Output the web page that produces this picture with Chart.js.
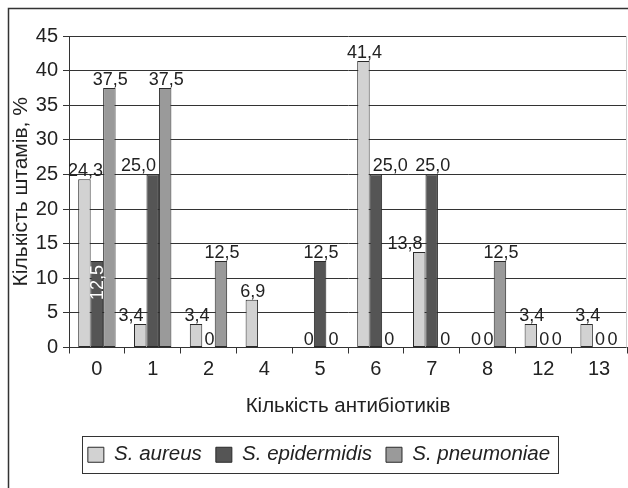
<!DOCTYPE html>
<html>
<head>
<meta charset="utf-8">
<script src="https://cdn.jsdelivr.net/npm/chart.js@4.4.1/dist/chart.umd.min.js"></script>
<style>
    html, body { margin: 0; padding: 0; background: #fff; }
</style>
</head>
<body>
<canvas id="chart" width="628" height="488"></canvas>
<script>
// data
const categories = ['0', '1', '2', '4', '5', '6', '7', '8', '12', '13'];
const aureus = [24.3, 3.4, 3.4, 6.9, 0, 41.4, 13.8, 0, 3.4, 3.4];
const epidermidis = [12.5, 25.0, 0, null, 12.5, 25.0, 25.0, 0, 0, 0];
const pneumoniae = [37.5, 37.5, 12.5, null, 0, 0, 0, 12.5, 0, 0];
const seriesNames = ['S. aureus', 'S. epidermidis', 'S. pneumoniae'];
const yMin = 0, yMax = 45, yStep = 5;

const FONT = "'Liberation Sans', Arial, Helvetica, sans-serif";
const INK = '#222';

function fmt(v) {
    if (v === 0) return '0';
    return v.toFixed(1).replace('.', ',');
}

// white page + outer frame
const framePlugin = {
    id: 'frame',
    beforeDraw(chart) {
        const ctx = chart.ctx;
        ctx.save();
        ctx.fillStyle = '#fff';
        ctx.fillRect(0, 0, chart.width, chart.height);
        ctx.strokeStyle = '#333';
        ctx.lineWidth = 1.5;
        ctx.strokeRect(8.5, 8.5, chart.width + 20, chart.height + 20);
        ctx.restore();
    },
    afterDraw(chart) {
        const a = chart.chartArea;
        const ctx = chart.ctx;
        ctx.save();
        ctx.strokeStyle = '#cfcfcf';
        ctx.lineWidth = 1;
        ctx.beginPath();
        ctx.moveTo(Math.round(a.right) - 0.5, a.top);
        ctx.lineTo(Math.round(a.right) - 0.5, a.bottom);
        ctx.stroke();
        ctx.restore();
    }
};

// value labels over the bars
const labelPlugin = {
    id: 'valueLabels',
    afterDatasetsDraw(chart) {
        const ctx = chart.ctx;
        const sets = chart.data.datasets;
        ctx.save();
        ctx.font = '18px ' + FONT;
        sets.forEach((ds, i) => {
            const meta = chart.getDatasetMeta(i);
            meta.data.forEach((bar, j) => {
                const v = ds.data[j];
                if (v === null || v === undefined) return;
                const txt = fmt(v);
                const lv = i > 0 ? sets[i - 1].data[j] : null;
                const rv = i < sets.length - 1 ? sets[i + 1].data[j] : null;
                // squeezed between two taller bars -> write it inside, turned
                if (v > 0 && lv > v && rv > v) {
                    ctx.save();
                    ctx.translate(bar.x + 1, bar.y + 4);
                    ctx.rotate(-Math.PI / 2);
                    ctx.fillStyle = '#fff';
                    ctx.textAlign = 'right';
                    ctx.textBaseline = 'middle';
                    ctx.fillText(txt, 0, 0);
                    ctx.restore();
                    return;
                }
                const w = ctx.measureText(txt).width;
                const base = bar.y - 3;
                let cx = bar.x + 1;
                // push the label off a taller neighbour bar
                if (rv !== null && rv !== undefined) {
                    const rb = chart.getDatasetMeta(i + 1).data[j];
                    const edge = rb.x - rb.width / 2;
                    if (rb.y < base && cx + w / 2 > edge) cx = edge - 3 - w / 2;
                }
                if (lv !== null && lv !== undefined) {
                    const lb = chart.getDatasetMeta(i - 1).data[j];
                    const edge = lb.x + lb.width / 2;
                    if (lb.y < base && cx - w / 2 < edge) cx = edge + 3 + w / 2;
                }
                ctx.fillStyle = INK;
                ctx.textAlign = 'center';
                ctx.textBaseline = 'alphabetic';
                ctx.fillText(txt, cx, base);
            });
        });
        ctx.restore();
    }
};

// box around the legend
const legendBoxPlugin = {
    id: 'legendBox',
    afterDraw(chart) {
        const hb = chart.legend && chart.legend.legendHitBoxes;
        if (!hb || !hb.length) return;
        const first = hb[0], last = hb[hb.length - 1];
        const x0 = Math.round(first.left - 6) + 0.5;
        const x1 = Math.round(last.left + last.width + 8) + 0.5;
        const y0 = Math.round(first.top - 9) + 0.5;
        const y1 = Math.round(first.top + first.height + 8) + 0.5;
        const ctx = chart.ctx;
        ctx.save();
        ctx.strokeStyle = '#333';
        ctx.lineWidth = 1;
        ctx.strokeRect(x0, y0, x1 - x0, y1 - y0);
        ctx.restore();
    }
};

const ctx = document.getElementById('chart').getContext('2d');
new Chart(ctx, {
    type: 'bar',
    data: {
        labels: categories,
        datasets: [
            { label: seriesNames[0], data: aureus, backgroundColor: '#d2d2d2' },
            { label: seriesNames[1], data: epidermidis, backgroundColor: '#555555' },
            { label: seriesNames[2], data: pneumoniae, backgroundColor: '#9a9a9a' }
        ].map(d => Object.assign(d, {
            borderColor: '#2a2a2a',
            borderWidth: 1,
            borderSkipped: false,
            barPercentage: 1,
            categoryPercentage: 0.67
        }))
    },
    options: {
        responsive: false,
        animation: false,
        devicePixelRatio: 1,
        layout: {
            padding: { left: 11, right: 1, top: 36, bottom: 13 }
        },
        plugins: {
            legend: {
                position: 'bottom',
                labels: {
                    boxWidth: 16,
                    boxHeight: 15,
                    padding: 14,
                    color: INK,
                    font: { family: FONT, size: 20.5, style: 'italic' }
                }
            },
            tooltip: { enabled: false },
            title: { display: false }
        },
        scales: {
            x: {
                grid: {
                    drawOnChartArea: false,
                    drawTicks: true,
                    tickLength: 6,
                    color: '#333'
                },
                border: { display: true, color: '#333', width: 1 },
                ticks: {
                    padding: 4,
                    color: INK,
                    maxRotation: 0,
                    font: { family: FONT, size: 20 }
                },
                title: {
                    display: true,
                    text: 'Кількість антибіотиків',
                    color: INK,
                    font: { family: FONT, size: 20.5 },
                    padding: { top: 0, bottom: 12 }
                },
                afterFit(scale) { scale.height = 83; }
            },
            y: {
                min: yMin,
                max: yMax,
                grid: {
                    color: '#333',
                    lineWidth: 1,
                    tickLength: 6
                },
                border: { display: true, color: '#333', width: 1 },
                ticks: {
                    stepSize: yStep,
                    padding: 5,
                    color: INK,
                    font: { family: FONT, size: 20 }
                },
                title: {
                    display: true,
                    text: 'Кількість штамів, %',
                    color: INK,
                    font: { family: FONT, size: 21 },
                    padding: { top: -2, bottom: 0 }
                },
                afterFit(scale) { scale.width = 58; }
            }
        }
    },
    plugins: [framePlugin, labelPlugin, legendBoxPlugin]
});
</script>
</body>
</html>
